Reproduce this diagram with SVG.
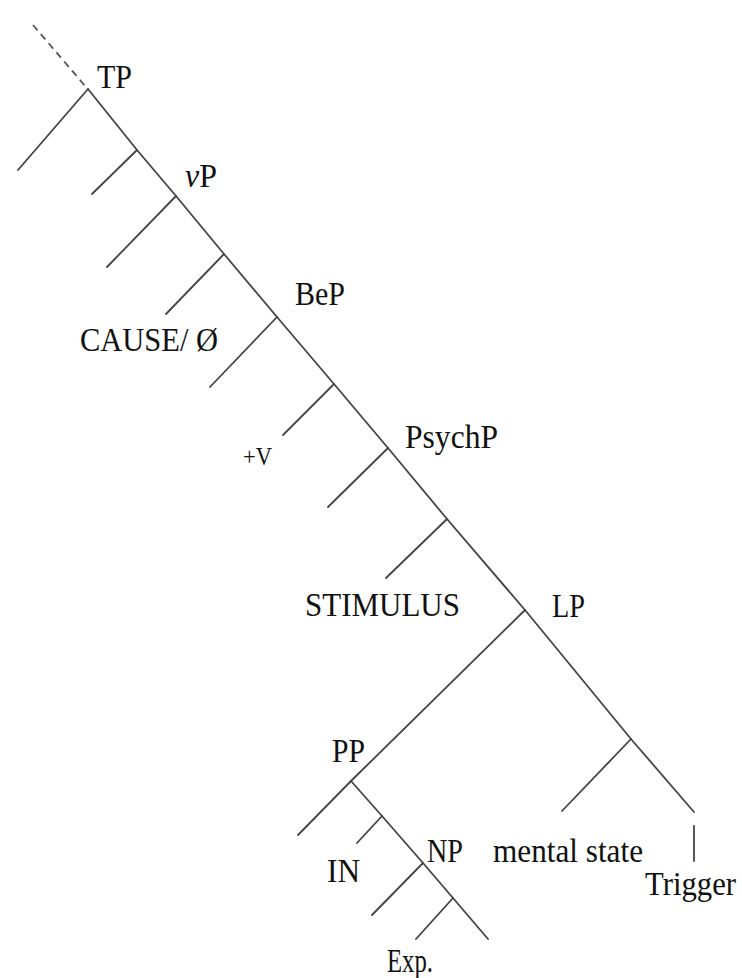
<svg xmlns="http://www.w3.org/2000/svg" width="742" height="978" viewBox="0 0 742 978">
<style>
.e{stroke:#444;stroke-width:1.8;fill:none;stroke-linecap:round}
.d{stroke:#555;stroke-width:1.8;stroke-dasharray:7 5;fill:none}
.l{font-family:"Liberation Serif","Times New Roman",serif;font-size:33px;fill:#111}
.s{font-size:25px}
</style>
<rect width="742" height="978" fill="#fff"/>
<g id="connectors">
<line class="d" x1="33" y1="25" x2="86" y2="87"/>
<polyline class="e" points="88,89 137,150 176,196 224,254 277,317 334,384 388,448 447,519 525,610 631,739 694,812"/>
<line class="e" x1="88" y1="89" x2="18" y2="170"/>
<line class="e" x1="137" y1="150" x2="92" y2="194"/>
<line class="e" x1="176" y1="196" x2="107" y2="267"/>
<line class="e" x1="224" y1="254" x2="166" y2="314"/>
<line class="e" x1="277" y1="317" x2="210" y2="387"/>
<line class="e" x1="334" y1="384" x2="283" y2="435"/>
<line class="e" x1="388" y1="448" x2="328" y2="507"/>
<line class="e" x1="447" y1="519" x2="386" y2="578"/>
<line class="e" x1="525" y1="610" x2="351" y2="781"/>
<line class="e" x1="351" y1="781" x2="298" y2="835"/>
<polyline class="e" points="351,781 382,816 423,863 453,898 488,939"/>
<line class="e" x1="382" y1="816" x2="357" y2="843"/>
<line class="e" x1="423" y1="863" x2="372" y2="915"/>
<line class="e" x1="453" y1="898" x2="416" y2="939"/>
<line class="e" x1="631" y1="739" x2="562" y2="811"/>
<line class="e" x1="694" y1="826" x2="694" y2="861"/>
</g>
<g id="TP"><text class="l" x="97" y="88" textLength="35" lengthAdjust="spacingAndGlyphs">TP</text></g>
<g id="vP"><text class="l" x="185" y="187" textLength="32" lengthAdjust="spacingAndGlyphs"><tspan font-style="italic">ν</tspan>P</text></g>
<g id="BeP"><text class="l" x="295" y="305" textLength="50" lengthAdjust="spacingAndGlyphs">BeP</text></g>
<g id="CAUSE"><text class="l" x="80" y="351" textLength="138" lengthAdjust="spacingAndGlyphs">CAUSE/ Ø</text></g>
<g id="V"><text class="l s" x="243" y="465" textLength="29" lengthAdjust="spacingAndGlyphs">+V</text></g>
<g id="PsychP"><text class="l" x="405" y="448" textLength="93" lengthAdjust="spacingAndGlyphs">PsychP</text></g>
<g id="STIMULUS"><text class="l" x="305" y="616" textLength="155" lengthAdjust="spacingAndGlyphs">STIMULUS</text></g>
<g id="LP"><text class="l" x="552" y="617" textLength="33" lengthAdjust="spacingAndGlyphs">LP</text></g>
<g id="PP"><text class="l" x="332" y="762" textLength="33" lengthAdjust="spacingAndGlyphs">PP</text></g>
<g id="IN"><text class="l" x="327" y="882" textLength="33" lengthAdjust="spacingAndGlyphs">IN</text></g>
<g id="NP"><text class="l" x="427" y="862" textLength="36" lengthAdjust="spacingAndGlyphs">NP</text></g>
<g id="Exp"><text class="l" x="387" y="972" textLength="46" lengthAdjust="spacingAndGlyphs">Exp.</text></g>
<g id="mental-state"><text class="l" x="493" y="862" textLength="150" lengthAdjust="spacingAndGlyphs">mental state</text></g>
<g id="Trigger"><text class="l" x="645" y="895" textLength="91" lengthAdjust="spacingAndGlyphs">Trigger</text></g>
</svg>
